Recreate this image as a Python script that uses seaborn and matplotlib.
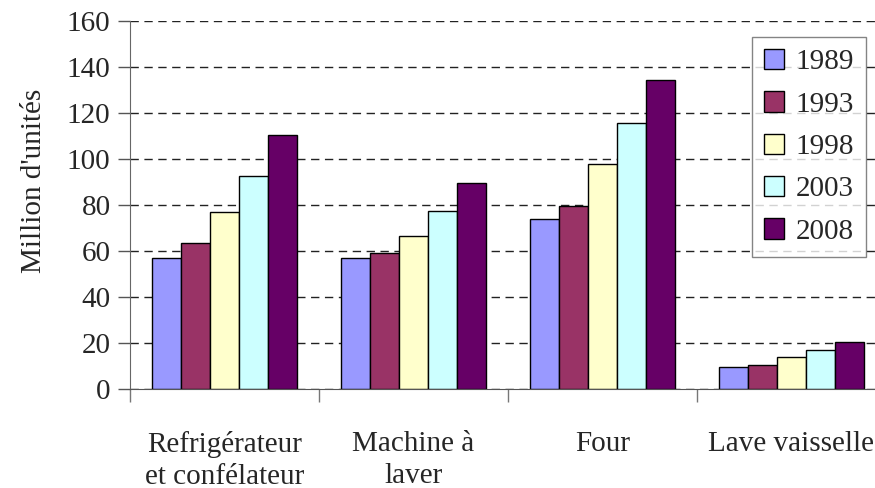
import pandas as pd
import seaborn as sns
import matplotlib.pyplot as plt

# Values (million units)
categories = ["Refrigérateur\net confélateur", "Machine à\nlaver", "Four", "Lave vaisselle"]
years = ["1989", "1993", "1998", "2003", "2008"]
v1989 = [57, 57, 74, 9.5]
v1993 = [63.5, 59, 79.5, 10.5]
v1998 = [77, 66.5, 98, 14]
v2003 = [92.5, 77.5, 115.5, 17]
v2008 = [110.5, 89.5, 134.5, 20.5]
colors = ["#9999FF", "#993366", "#FFFFCC", "#CCFFFF", "#660066"]

series = [v1989, v1993, v1998, v2003, v2008]
rows = []
for year, vals in zip(years, series):
    for cat, v in zip(categories, vals):
        rows.append({"cat": cat, "year": year, "val": v})
df = pd.DataFrame(rows)

sns.set_style("white")
plt.rcParams['font.family'] = ['Liberation Serif', 'DejaVu Serif']
plt.rcParams['font.size'] = 21

fig = plt.figure(figsize=(8.75, 4.88), dpi=100)
ax = fig.add_axes([130 / 875, 1 - 389 / 488, 756 / 875, 368 / 488])

sns.barplot(data=df, x="cat", y="val", hue="year", palette=colors,
            width=0.77, edgecolor="black", linewidth=1, saturation=1, ax=ax)

ax.set_ylim(0, 160)
ax.set_xlim(-0.5, 3.5)
ax.set_yticks(range(0, 161, 20))
ax.yaxis.grid(True, linestyle=(0, (6, 4)), color="#222222", linewidth=1)
ax.set_axisbelow(True)

# category ticks sit between groups
ax.set_xticks([-0.5, 0.5, 1.5, 2.5, 3.5])
ax.set_xticklabels([])
ax.set_xticks([0, 1, 2, 3], minor=True)
ax.set_xticklabels(categories, minor=True, va="top", linespacing=1.3)
ax.tick_params(axis="x", which="minor", bottom=True, length=0, pad=30)
ax.tick_params(axis="x", which="major", bottom=True, direction="out", length=9, width=1, color="#777777")
ax.tick_params(axis="y", left=True, direction="out", length=9, width=1, color="#555555", pad=5)

for s in ["top", "right"]:
    ax.spines[s].set_visible(False)
ax.spines["left"].set_color("#666666")
ax.spines["bottom"].set_color("#555555")

ax.set_xlabel("")
ax.set_ylabel("Million d'unités", labelpad=14, y=0.565)

handles, labels = ax.get_legend_handles_labels()
leg = ax.legend(handles, labels, loc="upper right", bbox_to_anchor=(866 / 875, 1 - 37 / 488),
                bbox_transform=fig.transFigure, frameon=True, fancybox=False,
                edgecolor="#666666", handlelength=0.7, handleheight=0.7,
                labelspacing=0.55, handletextpad=0.4, borderpad=0.4, borderaxespad=0)
leg.get_frame().set_linewidth(1)

fig.savefig("out.png", dpi=100)
